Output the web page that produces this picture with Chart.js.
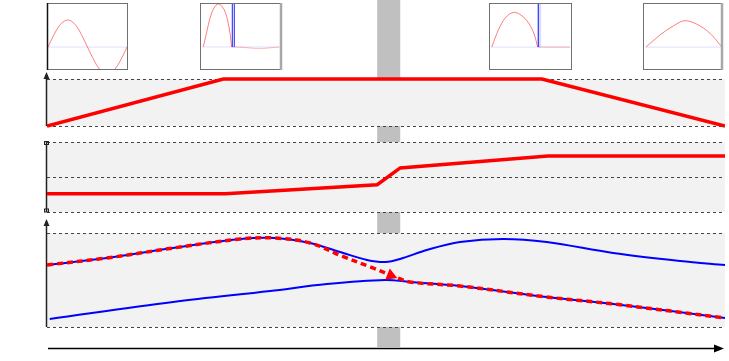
<!DOCTYPE html>
<html>
<head>
<meta charset="utf-8">
<script src="https://cdn.jsdelivr.net/npm/chart.js@4/dist/chart.umd.min.js"></script>
<style>
  body { margin: 0; background: #fff; }
  #wrap { position: relative; width: 729px; height: 361px; overflow: hidden; }
  canvas { position: absolute; }
</style>
</head>
<body>
<div id="wrap">
  <canvas id="main" width="729" height="361" style="left:0;top:0"></canvas>
  <canvas id="inset1"></canvas>
  <canvas id="inset2"></canvas>
  <canvas id="inset3"></canvas>
  <canvas id="inset4"></canvas>
</div>
<script>
// ---------- data (time axis 0..100) ----------

// grey band (avoided crossing region)
var bandT = [48.7, 52.1];

// panel 1 : pulse amplitude
var ampT = [0, 26, 73, 100];
var ampV = [0, 1, 1, 0];

// panel 2 : detuning
var detT = [0, 26.3, 48.7, 52.1, 73.9, 100];
var detV = [0.26, 0.26, 0.39, 0.63, 0.8, 0.8];

// panel 3 : energy levels
var upperT = [0, 8.8, 18.6, 28.5, 33.6, 38.8, 43.7, 47.2, 49.9, 52.5, 56, 60.9, 67.3, 73.7, 83.5, 93.4, 100];
var upperE = [66, 73.4, 84, 93.6, 94.7, 89.4, 78.7, 71.3, 69.1, 73.4, 81.9, 90.4, 93.7, 90.4, 78.7, 70.2, 66];
var lowerT = [0.4, 18.6, 32.9, 41.3, 49.9, 53.5, 60.9, 73.7, 83.5, 100];
var lowerE = [8.5, 26.6, 38.3, 45.7, 50, 47.9, 43.6, 31.9, 24.5, 9.6];
// state followed by the system (dashed)
var pathT = [0, 8.8, 18.6, 28.5, 33.6, 38.8, 43.7, 47.6, 51.6, 53.5, 60.9, 73.7, 83.5, 100];
var pathE = [66, 73.4, 84, 93.6, 94.7, 89.4, 74.8, 64.1, 52.5, 47.9, 43.6, 31.9, 24.5, 9.6];
var arrowT = [50.7];
var arrowE = [54.9];

// insets : field snapshots
var sineT = [0, 1, 2, 3, 4, 5, 6, 7, 8, 9, 10, 11, 12, 13, 14, 15, 16];
var sineV = [0, 0.38, 0.71, 0.92, 1, 0.92, 0.71, 0.38, 0, -0.38, -0.71, -0.92, -1, -0.92, -0.71, -0.38, 0];

var hump2T = [4, 8.2, 12.2, 16.3, 22.3, 28.4, 32.5, 36.6, 38.6];
var hump2V = [0, 0.35, 0.67, 0.88, 1, 0.9, 0.71, 0.32, 0];
var tail2T = [39, 50, 60, 70, 80, 90, 97];
var tail2V = [0, -0.005, -0.02, -0.035, -0.03, -0.01, 0];
var spike2T = [39.4, 41.8];

var hump3T = [3.3, 11.2, 19.3, 30.5, 41.3, 49.4, 55.4, 58.6];
var hump3V = [0, 0.49, 0.83, 1, 0.87, 0.63, 0.3, 0];
var tail3T = [60, 97.6];
var tail3V = [0, 0];
var spike3T = [59.4];

var hump4T = [3.75, 21.3, 37.9, 52.5, 67.1, 83.8, 98.75];
var hump4V = [0, 0.46, 0.8, 1, 0.87, 0.52, 0];

// ---------- helpers ----------
function pts(xs, ys) {
  return xs.map(function(x, i) { return { x: x, y: ys[i] }; });
}

// main chart area runs from y=0 to y=348; map panel pixel span to its value range
var AREA_TOP = 0, AREA_BOTTOM = 348;
function panelAxis(topPx, bottomPx, lo, hi) {
  var per = (bottomPx - topPx) / (hi - lo);
  return {
    type: 'linear', display: false,
    min: lo - (AREA_BOTTOM - bottomPx) / per,
    max: hi + (topPx - AREA_TOP) / per
  };
}

var panels = [
  { id: 'p1', lo: 0, hi: 1, dashes: [0, 1], axis: 'arrow', tip: 1.15 },
  { id: 'p2', lo: 0, hi: 1, dashes: [0, 0.5, 1], axis: 'bracket' },
  { id: 'p3', lo: 0, hi: 100, dashes: [0, 100], axis: 'arrow', tip: 115 }
];

function arrowHead(ctx, x, y, dir) {
  ctx.beginPath();
  if (dir === 'up') {
    ctx.moveTo(x, y); ctx.lineTo(x - 3, y + 7); ctx.lineTo(x + 3, y + 7);
  } else {
    ctx.moveTo(x, y); ctx.lineTo(x - 10, y - 4); ctx.lineTo(x - 10, y + 4);
  }
  ctx.closePath();
  ctx.fill();
}

var decor = {
  id: 'decor',
  beforeDatasetsDraw: function(chart) {
    var ctx = chart.ctx, a = chart.chartArea, xs = chart.scales.x;
    ctx.save();
    var b0 = xs.getPixelForValue(bandT[0]), b1 = xs.getPixelForValue(bandT[1]);
    ctx.fillStyle = '#c0c0c0';
    ctx.fillRect(b0, 0, b1 - b0, a.bottom - 1);

    panels.forEach(function(p) {
      var s = chart.scales[p.id];
      var top = s.getPixelForValue(p.hi), bot = s.getPixelForValue(p.lo);
      ctx.fillStyle = '#f2f2f2';
      ctx.fillRect(a.left, top, a.right - a.left, bot - top);
      ctx.strokeStyle = '#444';
      ctx.lineWidth = 1;
      ctx.setLineDash([3, 3]);
      p.dashes.forEach(function(v) {
        var y = Math.round(s.getPixelForValue(v)) + 0.5;
        ctx.beginPath(); ctx.moveTo(a.left, y); ctx.lineTo(a.right, y); ctx.stroke();
      });
      ctx.setLineDash([]);

      // left axis
      var ax = a.left - 0.5;
      ctx.strokeStyle = '#222';
      ctx.fillStyle = '#222';
      ctx.lineWidth = 1.5;
      if (p.axis === 'arrow') {
        var tip = s.getPixelForValue(p.tip);
        ctx.beginPath(); ctx.moveTo(ax, bot); ctx.lineTo(ax, tip + 4); ctx.stroke();
        arrowHead(ctx, ax, tip, 'up');
      } else {
        ctx.beginPath(); ctx.moveTo(ax, top); ctx.lineTo(ax, bot); ctx.stroke();
        ctx.lineWidth = 1;
        ctx.strokeRect(ax - 2, top - 0.5, 4, 3);
        ctx.strokeRect(ax - 2, bot - 3, 4, 3);
      }
    });

    // time axis
    var yb = a.bottom + 0.5;
    ctx.strokeStyle = '#000';
    ctx.fillStyle = '#000';
    ctx.lineWidth = 1.5;
    ctx.beginPath(); ctx.moveTo(a.left + 1, yb); ctx.lineTo(a.right - 6, yb); ctx.stroke();
    arrowHead(ctx, a.right - 1, yb, 'right');
    ctx.restore();
  }
};

// ---------- main chart ----------
new Chart(document.getElementById('main'), {
  type: 'line',
  data: {
    datasets: [
      { data: pts(arrowT, arrowE), yAxisID: 'p3', showLine: false, pointStyle: 'triangle',
        pointRadius: 7, pointRotation: 112, pointBackgroundColor: '#ff0000', pointBorderWidth: 0 },
      { data: pts(pathT, pathE), yAxisID: 'p3', borderColor: '#ff0000', borderWidth: 3.5,
        borderDash: [6, 4], tension: 0.35, pointRadius: 0 },
      { data: pts(upperT, upperE), yAxisID: 'p3', borderColor: '#0000ff', borderWidth: 2,
        tension: 0.35, pointRadius: 0 },
      { data: pts(lowerT, lowerE), yAxisID: 'p3', borderColor: '#0000ff', borderWidth: 2,
        tension: 0.35, pointRadius: 0 },
      { data: pts(ampT, ampV), yAxisID: 'p1', borderColor: '#ff0000', borderWidth: 3.5,
        tension: 0, pointRadius: 0 },
      { data: pts(detT, detV), yAxisID: 'p2', borderColor: '#ff0000', borderWidth: 3.5,
        tension: 0, pointRadius: 0 }
    ]
  },
  options: {
    responsive: false,
    animation: false,
    devicePixelRatio: 1,
    layout: { autoPadding: false, padding: { left: 47, right: 4, top: AREA_TOP, bottom: 361 - AREA_BOTTOM } },
    plugins: { legend: { display: false }, tooltip: { enabled: false } },
    scales: {
      x: { type: 'linear', display: false, min: 0, max: 100 },
      p1: panelAxis(79, 126, 0, 1),
      p2: panelAxis(142, 212, 0, 1),
      p3: panelAxis(233, 327, 0, 100)
    }
  },
  plugins: [decor]
});

// ---------- insets ----------
var PINK = 'rgba(255,40,40,0.6)';
var LAVENDER = 'rgba(160,160,255,0.35)';

var frame = {
  id: 'frame',
  afterDatasetsDraw: function(chart) {
    var ctx = chart.ctx, a = chart.chartArea, o = chart.options.plugins.frame;
    ctx.save();
    ctx.strokeStyle = '#707070';
    ctx.lineWidth = 1;
    ctx.strokeRect(a.left + 0.5, a.top + 0.5, a.right - a.left - 1, a.bottom - a.top - 1);
    if (o.darkLeft) {
      ctx.strokeStyle = '#111';
      ctx.lineWidth = 1.5;
      ctx.beginPath(); ctx.moveTo(a.left + 0.5, a.top); ctx.lineTo(a.left + 0.5, a.bottom); ctx.stroke();
    }
    if (o.greyRight) {
      ctx.strokeStyle = '#a8a8a8';
      ctx.lineWidth = 2.5;
      ctx.beginPath(); ctx.moveTo(a.right - 1, a.top); ctx.lineTo(a.right - 1, a.bottom); ctx.stroke();
    }
    ctx.restore();
  }
};

function line(xs, ys, color, width) {
  return { data: pts(xs, ys), borderColor: color, borderWidth: width || 1,
           cubicInterpolationMode: 'monotone', pointRadius: 0 };
}
function spike(x, color, width) {
  return { data: [{ x: x, y: 0 }, { x: x, y: 3 }], borderColor: color, borderWidth: width || 1,
           pointRadius: 0 };
}

function makeInset(id, box, xr, yr, datasets, frameOpts) {
  var cv = document.getElementById(id);
  var w = box[2] - box[0] + 4, h = box[3] - box[1] + 4;
  cv.width = w; cv.height = h;
  cv.style.left = (box[0] - 2) + 'px';
  cv.style.top = (box[1] - 2) + 'px';
  new Chart(cv, {
    type: 'line',
    data: { datasets: datasets },
    options: {
      responsive: false,
      animation: false,
      devicePixelRatio: 1,
      layout: { autoPadding: false, padding: 2 },
      plugins: { legend: { display: false }, tooltip: { enabled: false }, frame: frameOpts },
      scales: {
        x: { type: 'linear', display: false, min: xr[0], max: xr[1] },
        y: { type: 'linear', display: false, min: yr[0], max: yr[1] }
      }
    },
    plugins: [frame]
  });
}

makeInset('inset1', [47, 3, 128, 70], [-0.2, 16.2], [-0.85, 1.63], [
  line(sineT, sineV, PINK),
  line([0, 16], [0, 0], LAVENDER)
], { darkLeft: true });

makeInset('inset2', [200, 3, 282, 70], [0, 100], [-0.535, 1.023], [
  spike(spike2T[0], '#2020ff'),
  spike(spike2T[1], '#2020ff'),
  line(hump2T, hump2V, PINK),
  line(tail2T, tail2V, 'rgba(255,60,60,0.35)'),
  line([3, 97], [0, 0], LAVENDER)
], { greyRight: true });

makeInset('inset3', [489, 3, 572, 70], [0, 100], [-0.66, 1.27], [
  spike(spike3T[0], '#2020ff'),
  spike(spike3T[0] + 1, 'rgba(80,80,255,0.2)', 4),
  line(hump3T, hump3V, PINK),
  line(tail3T, tail3V, 'rgba(255,60,60,0.35)'),
  line([3, 98], [0, 0], LAVENDER)
], {});

makeInset('inset4', [643, 3, 723, 70], [0, 100], [-0.87, 1.67], [
  line(hump4T, hump4V, PINK),
  line([3, 98.75], [0, 0], LAVENDER)
], { greyRight: true });
</script>
</body>
</html>
